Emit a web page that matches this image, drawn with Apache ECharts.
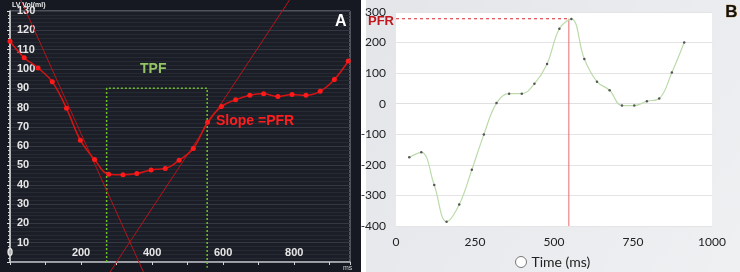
<!DOCTYPE html>
<html><head><meta charset="utf-8">
<script src="https://cdn.jsdelivr.net/npm/echarts@6/dist/echarts.min.js"></script>
<style>html,body{margin:0;padding:0;background:#fff}#c{width:740px;height:272px}</style>
</head><body><div id="c"></div>
<script>
// Panel A: LV volume curve
const aTime = [0,40,79,119,159,198,238,278,318,357,397,437,476,516,556,595,635,675,714,754,794,833,873,913,952];
const aVol  = [114.3,105.8,100.5,93.3,79.6,63.1,53.1,45.5,45.2,45.8,47.7,48.4,52.7,58.8,72.4,80.5,84,86.4,87.1,85.7,86.7,86.4,88.4,94.5,104.1];
const tangentDown = [[20,140],[380,-7]];
const tangentUp   = [[275,-7],[795,138]];
const tpfBox = [[272,0],[272,90],[555,90],[555,-3]];
const aXTicks = [0,200,400,600,800];
const aYTicks = [10,20,30,40,50,60,70,80,90,100,110,120,130];
// Panel B: filling rate curve
const bTime = [42,80,121,160,200,240,278,318,358,398,438,478,517,555,596,636,676,715,754,794,833,873,912];
const bRate = [-175,-159,-266,-386,-330,-216,-101,2,33,33,65,130,245,277,146,72,44,-6,-6,8,17,102,200];
const pfrValue = 278;
const pfrTime = 547;
const bXTicks = [0,250,500,750,1000];
const bYTicks = [-400,-300,-200,-100,0,100,200,300];

const chart = echarts.init(document.getElementById('c'));
const zip = (xs, ys) => xs.map((x,i)=>[x,ys[i]]);
chart.setOption({
  animation:false,
  graphic:[
    {type:'rect',z:-10,shape:{x:0,y:0,width:361,height:272},style:{fill:'#161922'}},
    {type:'rect',z:-10,shape:{x:366,y:0,width:374,height:272},style:{fill:new echarts.graphic.LinearGradient(0,0,1,1,[{offset:0,color:'#e3e5e9'},{offset:1,color:'#eef0f2'}])}},
    {type:'text',left:12,top:2,z:50,style:{text:'LV Vol(ml)',fill:'#e8e8e8',font:'bold 7px "Liberation Sans"'}},
    {type:'text',left:343,top:265,z:50,style:{text:'ms',fill:'#cfd0d4',font:'7px "Liberation Sans"'}},
    {type:'text',left:335,top:14,z:50,style:{text:'A',fill:'#ffffff',font:'bold 16px "Liberation Sans"'}},
    {type:'text',left:140,top:62,z:50,style:{text:'TPF',fill:'#94c463',font:'bold 14px "Liberation Sans"'}},
    {type:'text',left:216,top:114,z:50,style:{text:'Slope =PFR',fill:'#ff1e1e',font:'bold 14px "Liberation Sans"'}},
    {type:'text',left:725,top:4,z:50,style:{text:'B',fill:'#111111',stroke:'#d08a2a',lineWidth:0.6,font:'bold 17px "Liberation Sans"'}},
    {type:'text',left:368,top:15,z:50,style:{text:'PFR',fill:'#c0161b',font:'bold 13px "Liberation Sans"'}}
  ],
  legend:{left:510,top:250,itemWidth:11,itemHeight:11,itemGap:6,
    data:[{name:'Time (ms)',icon:'circle',itemStyle:{color:'#ffffff',borderColor:'#777',borderWidth:1}}],
    textStyle:{fontSize:14,color:'#222',fontFamily:'Lato'}},
  grid:[
    {left:10,top:11,width:340,height:251,show:true,backgroundColor:'#1b1e27',borderColor:'#8a8e96',borderWidth:1},
    {left:396,top:12,width:316,height:214,show:true,backgroundColor:'#ffffff',borderWidth:0}
  ],
  xAxis:[
    {gridIndex:0,type:'value',min:0,max:957,interval:200,
      axisLine:{show:true,lineStyle:{color:'#b8bac0',width:1.5}},
      axisTick:{show:true,length:3,lineStyle:{color:'#d0d0d0'}},
      minorTick:{show:true,splitNumber:2,length:3,lineStyle:{color:'#d0d0d0'}},
      splitLine:{show:false},
      axisLabel:{inside:true,margin:4,color:'#e6e6e6',fontSize:11,fontWeight:'bold',fontFamily:'Liberation Sans',showMaxLabel:false,
        formatter:v=>aXTicks.includes(v)?String(v):''}},
    {gridIndex:1,type:'value',min:0,max:1000,interval:250,
      axisLine:{show:true,lineStyle:{color:'#e0e0e0'}},
      axisTick:{show:false},splitLine:{show:false},
      axisLabel:{margin:10,color:'#222',fontSize:12,fontFamily:'Lato',formatter:v=>bXTicks.includes(v)?String(v):''}}
  ],
  yAxis:[
    {gridIndex:0,type:'value',min:0,max:130,interval:10,
      axisLine:{show:true,lineStyle:{color:'#d8d8d8',width:1.5}},
      axisTick:{show:true,length:3,inside:false,lineStyle:{color:'#e0e0e0'}},
      minorTick:{show:true,splitNumber:5,length:2,lineStyle:{color:'#d0d0d0'}},
      splitLine:{show:true,lineStyle:{color:'#343843',width:1}},
      minorSplitLine:{show:true,lineStyle:{color:'#262a33',width:1}},
      axisLabel:{inside:true,margin:7,color:'#e6e6e6',fontSize:11,fontWeight:'bold',fontFamily:'Liberation Sans',showMinLabel:false,
        formatter:v=>aYTicks.includes(v)?String(v):''}},
    {gridIndex:1,type:'value',min:-400,max:300,interval:100,
      axisLine:{show:false},axisTick:{show:false},
      splitLine:{show:true,lineStyle:{color:'#e4e4e4',width:1}},
      axisLabel:{margin:10,color:'#222',fontSize:12,fontFamily:'Lato',formatter:v=>bYTicks.includes(v)?String(v):''}}
  ],
  series:[
    {type:'line',name:'tpf',xAxisIndex:0,yAxisIndex:0,data:tpfBox,symbol:'none',clip:false,z:3,
      lineStyle:{color:'#6fbf2a',width:1.5,type:[2,2]}},
    {type:'line',name:'tan1',xAxisIndex:0,yAxisIndex:0,data:tangentDown,symbol:'none',clip:false,z:4,
      lineStyle:{color:'#b4151a',width:1}},
    {type:'line',name:'tan2',xAxisIndex:0,yAxisIndex:0,data:tangentUp,symbol:'none',clip:false,z:4,
      lineStyle:{color:'#b4151a',width:1}},
    {type:'line',name:'vol',xAxisIndex:0,yAxisIndex:0,data:zip(aTime,aVol),smooth:0.4,clip:false,z:5,
      symbol:'circle',symbolSize:5,itemStyle:{color:'#ff1a1a'},lineStyle:{color:'#d41414',width:1.5}},
    {type:'line',name:'pfrH',xAxisIndex:1,yAxisIndex:1,data:[[0,pfrValue],[pfrTime,pfrValue]],symbol:'none',z:4,
      lineStyle:{color:'#d9262c',width:1.2,type:[3,3]}},
    {type:'line',name:'pfrV',xAxisIndex:1,yAxisIndex:1,data:[[pfrTime,-400],[pfrTime,pfrValue]],symbol:'none',z:4,
      lineStyle:{color:'#e46b6b',width:1}},
    {type:'line',name:'Time (ms)',xAxisIndex:1,yAxisIndex:1,data:zip(bTime,bRate),smooth:0.4,z:5,
      symbol:'circle',symbolSize:2.5,itemStyle:{color:'#555'},lineStyle:{color:'#bcdbab',width:1.2}}
  ]
});
</script></body></html>
